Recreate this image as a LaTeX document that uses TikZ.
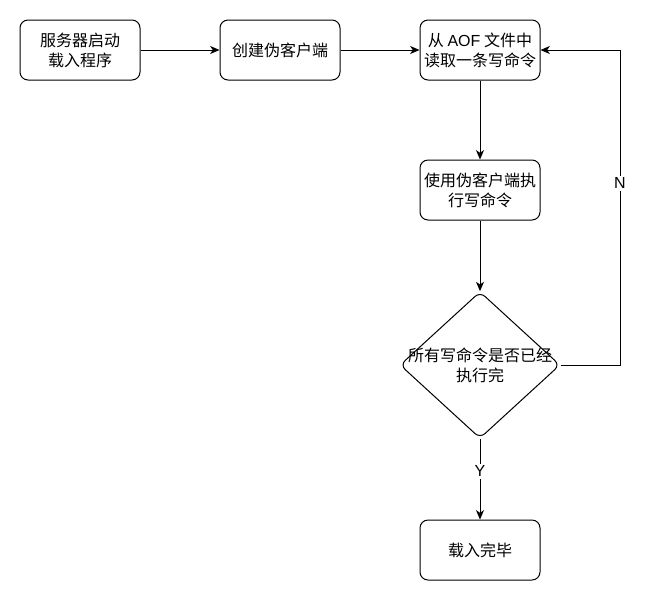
\documentclass[tikz,border=0pt]{standalone}
\usepackage{fontspec}
\setmainfont{Noto Sans CJK SC}
\newfontfamily\latinfont{Liberation Sans}
\usetikzlibrary{arrows.meta,shapes.geometric}

\tikzset{every picture/.style={line width=0.75pt}}
\tikzset{
  stepbox/.style={draw, rounded corners=6pt, minimum width=90pt, minimum height=45pt, inner sep=0pt, align=center, font=\fontsize{12pt}{15pt}\selectfont},
  decbox/.style={draw, diamond, rounded corners=5pt, minimum width=120pt, minimum height=110pt, inner sep=0pt},
  lbl/.style={fill=white, inner sep=1.5pt, font=\latinfont\fontsize{12pt}{15pt}\selectfont},
  arr/.style={-{Stealth[length=7pt,width=6pt,inset=2pt]}}
}

\begin{document}
\begin{tikzpicture}[x=0.75pt,y=0.75pt,yscale=-1,xscale=1]
\useasboundingbox (0,0) rectangle (649,601);

% Boxes
\node [stepbox] (start) at (80,50) {服务器启动\\载入程序};
\node [stepbox] (client) at (280,50) {创建伪客户端};
\node [stepbox] (read) at (480,50) {从 {\latinfont AOF} 文件中\\读取一条写命令};
\node [stepbox] (exec) at (480,190) {使用伪客户端执\\行写命令};
% Decision
\node [decbox] (dec) at (480,365) {};
\node [align=center, font=\fontsize{12pt}{15pt}\selectfont] (dectext) at (dec) {所有写命令是否已经\\执行完};
\node [stepbox] (done) at (480,550) {载入完毕};

% Connectors
\draw [arr] (start) -- (client);
\draw [arr] (client) -- (read);
\draw [arr] (read) -- (exec);
\draw [arr] (exec) -- (dec);
\draw [arr] (dec) -- node [lbl, pos=0.4] (yes) {Y} (done);

% Loop back
\coordinate (loop) at (620,50);
\draw [arr] (dec.east) -| (loop) -- (read.east);
\node [lbl] (no) at (620,183) {N};

\end{tikzpicture}
\end{document}
